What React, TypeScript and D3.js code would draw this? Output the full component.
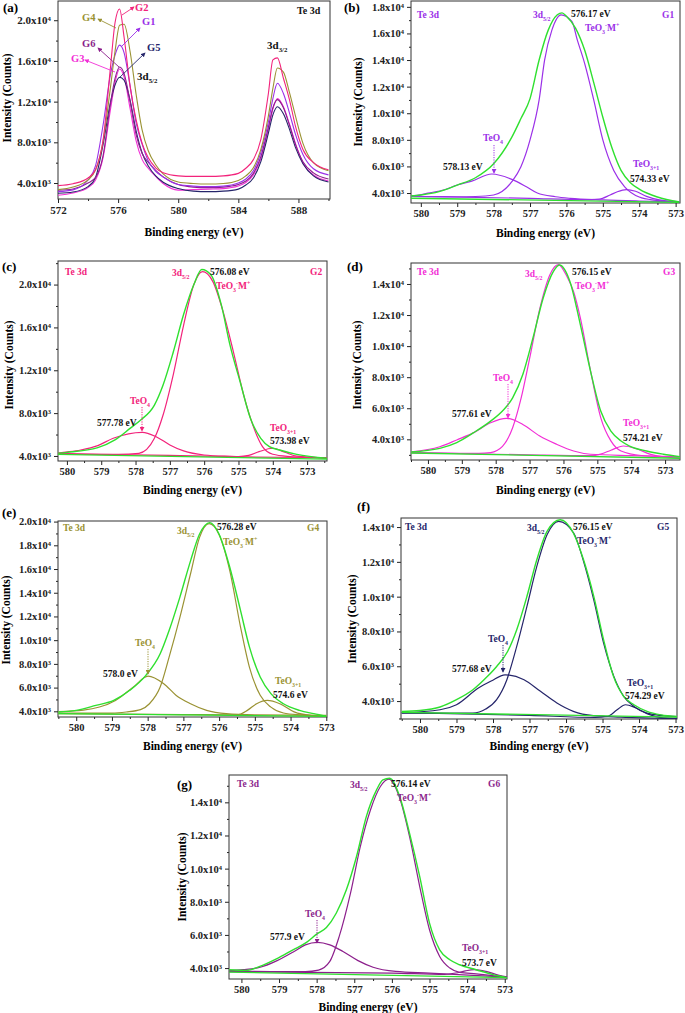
import React, { useEffect, useRef } from "react";
import * as d3 from "d3";

const FONT = "'Liberation Serif', 'Times New Roman', serif";
const GREEN = "#2fe02f";

// ---------- (a) Te 3d survey of the six glasses ----------
const surveyE = [572, 573, 574, 574.5, 575, 575.5, 575.8, 576.1, 576.4, 576.8, 577.2, 577.6, 578, 578.5, 579, 580, 581, 582, 583, 584, 584.5, 585, 585.5, 586, 586.3, 586.6, 587, 587.4, 587.8, 588.3, 589, 590];
const surveyG1 = [3150, 3330, 4300, 5700, 9700, 14750, 16600, 17550, 16800, 13500, 9900, 7800, 6200, 5150, 4600, 3850, 3700, 3650, 3700, 4000, 4400, 5200, 7000, 10000, 12300, 13800, 12800, 10900, 8800, 6800, 5400, 4800];
const surveyG2 = [3740, 3930, 4490, 5300, 8200, 15500, 19800, 21100, 18300, 13500, 10200, 7900, 6500, 5500, 5000, 4700, 4650, 4650, 4700, 4950, 5450, 6300, 8300, 12800, 16100, 16300, 14300, 12200, 9600, 7300, 6000, 5300];
const surveyG3 = [2800, 3020, 3550, 4300, 6500, 11300, 13900, 15200, 14400, 11300, 8150, 6300, 5450, 4650, 3950, 3300, 3350, 3400, 3450, 3700, 4050, 4800, 6400, 9300, 11300, 12300, 11500, 9800, 7900, 6000, 4800, 4200];
const surveyG4 = [3350, 3600, 4300, 5300, 8100, 13500, 17000, 19500, 19600, 16900, 12700, 9200, 7200, 5800, 4900, 4100, 3950, 3900, 3950, 4250, 4700, 5500, 7300, 10600, 13300, 15300, 14900, 12900, 10600, 7900, 6000, 5200];
const surveyG5 = [3000, 3120, 3650, 4550, 7800, 12000, 13650, 14400, 14100, 12100, 9100, 6950, 5700, 4700, 4080, 3460, 3200, 3150, 3200, 3400, 3800, 4500, 6100, 8900, 10700, 11500, 10800, 9300, 7500, 5900, 4700, 4100];
const surveyG6 = [3300, 3420, 4000, 4550, 6700, 11900, 14300, 15400, 14750, 12000, 8750, 6900, 6050, 5250, 4600, 3850, 3600, 3550, 3600, 3850, 4200, 4950, 6600, 9500, 11400, 12200, 11400, 9700, 7800, 6100, 5000, 4400];

const sampleNames = ["G1", "G2", "G3", "G4", "G5", "G6"];
const sampleColors = ["#9b30e8", "#f2237b", "#f22ed6", "#9a9233", "#25256a", "#8c1f8c"];

// ---------- tick values ----------
const surveyXTicks = [572, 576, 580, 584, 588];
const surveyXMinor = [574, 578, 582, 586, 590];
const fitXTicks = [580, 579, 578, 577, 576, 575, 574, 573];
const fitXMinor = [580.5, 579.5, 578.5, 577.5, 576.5, 575.5, 574.5, 573.5, 572.5];
const yTicks4k = [4000, 8000, 12000, 16000, 20000];
const yMinor4k = [6000, 10000, 14000, 18000, 22000];
const yTicks2k = [4000, 6000, 8000, 10000, 12000, 14000, 16000, 18000, 20000];
const yMinor2k = [3000, 5000, 7000, 9000, 11000, 13000, 15000, 17000, 19000];

// ---------- (b) G1 fit ----------
const bExpE = [580.3, 580, 579.5, 579, 578.5, 578, 577.5, 577.25, 577, 576.75, 576.5, 576.25, 576.12, 576, 575.75, 575.5, 575.25, 575, 574.75, 574.5, 574.25, 574, 573.5, 572.9];
const bExp = [3770, 3850, 4100, 4600, 5150, 6200, 8200, 9600, 11100, 14000, 16250, 17400, 17550, 17300, 16400, 14750, 12300, 9700, 7400, 5700, 4800, 4300, 3700, 3330];
const bMainE = [580.3, 579, 578.5, 578, 577.5, 577.25, 577, 576.75, 576.6, 576.4, 576.15, 575.85, 575.7, 575.5, 575.25, 575, 574.7, 574.4, 574, 573.6, 572.9];
const bMain = [3740, 3720, 3740, 3850, 4850, 5980, 8000, 11000, 14000, 16250, 17400, 16900, 15500, 13750, 11000, 8000, 5700, 4470, 3700, 3470, 3350];
const bTeO4E = [580.3, 580.1, 579.8, 579.35, 579, 578.6, 578.05, 577.5, 577.1, 576.8, 576.3, 575.9, 575, 574, 572.9];
const bTeO4 = [3780, 3830, 3990, 4250, 4600, 4900, 5430, 5030, 4470, 4000, 3720, 3600, 3480, 3400, 3340];
const bTeO31E = [580.3, 577, 575.5, 575.1, 574.8, 574.6, 574.35, 574.1, 573.8, 573.45, 572.9];
const bTeO31 = [3750, 3600, 3500, 3540, 3850, 4100, 4260, 4130, 3750, 3480, 3330];
const bBgE = [580.3, 572.9];
const bBg = [3610, 3300];

// ---------- (c) G2 fit ----------
const cExpE = [580.3, 580, 579.1, 578.6, 578.15, 577.85, 577.45, 577.2, 576.9, 576.6, 576.3, 576.07, 575.8, 575.5, 575.25, 574.95, 574.65, 574.35, 574.1, 573.8, 573.3, 572.4];
const cExp = [4250, 4340, 4780, 5500, 6600, 7350, 8750, 10600, 13700, 17200, 20000, 21400, 20900, 18100, 14400, 10900, 7500, 5650, 4870, 4560, 4150, 3780];
const cMainE = [580.3, 578.5, 577.9, 577.45, 577.2, 576.9, 576.6, 576.3, 576.05, 575.75, 575.45, 575.15, 574.85, 574.55, 574.3, 574, 573.5, 572.4];
const cMain = [4250, 4150, 4250, 5650, 7800, 11600, 16200, 20000, 21200, 20300, 17500, 13750, 9700, 6600, 4870, 4160, 3950, 3800];
const cTeO4E = [580.3, 580.1, 579.6, 579.1, 578.65, 577.8, 577.4, 577, 576.6, 576, 575.25, 574.5, 572.4];
const cTeO4 = [4250, 4340, 4560, 4970, 5650, 6210, 5800, 5030, 4470, 4090, 3960, 3900, 3850];
const cTeO31E = [580.3, 577, 575, 574.7, 574.4, 574.0, 573.65, 573.3, 572.4];
const cTeO31 = [4200, 4050, 3950, 4050, 4400, 4720, 4350, 3980, 3800];
const cBgE = [580.3, 572.4];
const cBg = [4150, 3700];

// ---------- (d) G3 fit ----------
const dExpE = [580.5, 579.65, 579.15, 578.65, 578.15, 577.8, 577.5, 577.2, 576.9, 576.6, 576.3, 576.12, 575.8, 575.5, 575.2, 574.9, 574.6, 574.3, 574.05, 573.55, 573.05, 572.5];
const dExp = [3190, 3420, 3790, 4430, 5170, 5820, 6670, 8170, 10520, 13080, 14790, 15220, 14100, 11370, 8380, 5820, 4530, 3890, 3570, 3250, 3040, 2870];
const dMainE = [580.5, 578.5, 578.15, 577.8, 577.5, 577.25, 577, 576.7, 576.4, 576.15, 575.9, 575.7, 575.5, 575.2, 574.9, 574.6, 574.3, 573.7, 572.5];
const dMain = [3150, 3100, 3150, 3550, 4750, 6650, 9200, 12400, 14600, 15250, 14500, 13500, 11800, 8400, 5400, 3900, 3250, 2960, 2850];
const dTeO4E = [580.5, 579.65, 579.15, 578.65, 578.15, 577.68, 577.2, 576.7, 576.2, 575.7, 575.2, 574, 572.5];
const dTeO4 = [3200, 3520, 3960, 4430, 5070, 5350, 4960, 4210, 3680, 3250, 3040, 2950, 2870];
const dTeO31E = [580.5, 577, 575.2, 574.9, 574.6, 574.23, 573.85, 573.45, 573.05, 572.5];
const dTeO31 = [3150, 3000, 2950, 3050, 3300, 3570, 3400, 3050, 2880, 2800];
const dBgE = [580.5, 572.5];
const dBg = [3120, 2780];

// ---------- (e) G4 fit ----------
const eExpE = [580.5, 580, 579.45, 578.95, 578.5, 578.05, 577.65, 577.4, 577.1, 576.8, 576.55, 576.26, 576, 575.7, 575.4, 575.15, 574.85, 574.55, 574.2, 573.75, 573.35, 573];
const eExp = [3940, 4080, 4500, 4920, 5770, 7030, 8850, 10810, 13610, 16690, 18930, 19910, 18930, 16130, 12490, 9410, 6890, 5490, 4640, 4080, 3800, 3580];
const eMainE = [580.5, 579, 578.6, 578.2, 577.95, 577.65, 577.4, 577.1, 576.8, 576.55, 576.28, 576, 575.7, 575.4, 575.15, 574.85, 574.55, 574.2, 573.7, 573];
const eMain = [3850, 3850, 3940, 4140, 4640, 6050, 8570, 11900, 15600, 18650, 19830, 18900, 15850, 11100, 7700, 5350, 4350, 3860, 3700, 3600];
const eTeO4E = [580.5, 579.8, 579.35, 578.9, 578.4, 577.99, 577.55, 577.2, 576.8, 576.35, 575.8, 575, 573];
const eTeO4 = [3980, 4100, 4360, 4920, 6050, 6970, 6330, 5340, 4640, 4080, 3800, 3700, 3650];
const eTeO31E = [580.5, 577, 575.5, 575.2, 574.95, 574.65, 574.3, 573.9, 573.45, 573];
const eTeO31 = [3800, 3720, 3700, 4100, 4640, 4920, 4640, 3950, 3660, 3600];
const eBgE = [580.5, 573];
const eBg = [3800, 3580];

// ---------- (f) G5 fit ----------
const fExpE = [580.5, 580, 579.45, 579, 578.55, 578.15, 577.9, 577.6, 577.35, 577.07, 576.8, 576.52, 576.16, 575.8, 575.52, 575.24, 574.97, 574.7, 574.42, 574.14, 573.78, 573.4, 572.95];
const fExp = [3410, 3460, 3660, 4080, 4650, 5420, 5990, 6850, 8100, 10020, 12120, 13750, 14420, 13660, 12120, 10020, 7520, 5420, 4270, 3790, 3410, 3210, 3120];
const fMainE = [580.5, 578.55, 578.2, 577.9, 577.62, 577.35, 577.07, 576.8, 576.52, 576.2, 575.79, 575.52, 575.24, 574.97, 574.69, 574.42, 574.14, 573.78, 572.95];
const fMain = [3300, 3310, 3540, 4080, 5230, 7140, 9440, 11740, 13560, 14330, 13660, 12030, 9820, 7330, 5420, 4270, 3690, 3310, 3100];
const fTeO4E = [580.5, 579.45, 579, 578.4, 578.05, 577.67, 577.15, 576.7, 576.25, 575.8, 575.25, 574.5, 572.95];
const fTeO4 = [3330, 3500, 3790, 4750, 5150, 5510, 5230, 4560, 3890, 3410, 3160, 3080, 3000];
const fTeO31E = [580.5, 577, 575.2, 574.85, 574.6, 574.37, 574.1, 573.75, 573.4, 572.95];
const fTeO31 = [3330, 3180, 3060, 3120, 3500, 3790, 3620, 3250, 3050, 2990];
const fBgE = [580.5, 572.95];
const fBg = [3350, 3080];

// ---------- (g) G6 fit ----------
const gExpE = [580.35, 579.87, 579.51, 579.07, 578.63, 578.27, 578.0, 577.74, 577.48, 577.21, 576.94, 576.68, 576.41, 576.24, 576.06, 575.79, 575.53, 575.26, 575.0, 574.73, 574.46, 574.2, 573.76, 573.31, 572.9];
const gExp = [3900, 3860, 4100, 4550, 5100, 5550, 6050, 6450, 7310, 8720, 10730, 13140, 14740, 15350, 15450, 14340, 12130, 9520, 6710, 5100, 4500, 4200, 3900, 3600, 3400];
const gMainE = [580.35, 578.3, 577.95, 577.65, 577.4, 577.1, 576.84, 576.57, 576.31, 576.08, 575.79, 575.53, 575.26, 575.0, 574.73, 574.46, 574.2, 573.76, 572.9];
const gMain = [3800, 3790, 3880, 4400, 5910, 8520, 11330, 13540, 14940, 15400, 14240, 11930, 8920, 6310, 4700, 4000, 3740, 3650, 3450];
const gTeO4E = [580.35, 579.95, 579.5, 579.05, 578.6, 578.3, 577.98, 577.65, 577.3, 576.9, 576.5, 575.9, 575, 572.9];
const gTeO4 = [3830, 3900, 4050, 4450, 5000, 5400, 5550, 5400, 5000, 4450, 4050, 3800, 3700, 3450];
const gTeO31E = [580.35, 576, 574.6, 574.3, 574.05, 573.8, 573.5, 573.15, 572.9];
const gTeO31 = [3780, 3700, 3620, 3700, 3830, 3900, 3800, 3560, 3450];
const gBgE = [580.35, 572.9];
const gBg = [3760, 3420];

// peak position labels, panels (b)..(g)
const mainEv = ["576.17 eV", "576.08 eV", "576.15 eV", "576.28 eV", "576.15 eV", "576.14 eV"];
const teo4Ev = ["578.13 eV", "577.78 eV", "577.61 eV", "578.0 eV", "577.68 eV", "577.9 eV"];
const teo31Ev = ["574.33 eV", "573.98 eV", "574.21 eV", "574.6 eV", "574.29 eV", "573.7 eV"];

type Pt = [number, number];
const zip = (e: number[], v: number[]): Pt[] => e.map((x, i) => [x, v[i]]);

const surveySeries = [surveyG1, surveyG2, surveyG3, surveyG4, surveyG5, surveyG6];
// label text position + arrow (from curve -> to label), in page px
const surveyNotes = [
  { t: [142, 25], a: [121, 47, 140, 28] },
  { t: [135, 11], a: [122, 15, 134, 7] },
  { t: [71, 62], a: [115, 72, 85, 60] },
  { t: [82, 21], a: [116, 28, 98, 19] },
  { t: [147, 51], a: [119, 78, 145, 53] },
  { t: [82, 47], a: [119, 67, 98, 48] },
];

const fits = [
  { letter: "(b)", s: 0, box: [411, 680, 1, 203], xd: [580.27, 572.88], yd: [3250, 18440], yM: yTicks2k, ym: yMinor2k,
    exp: zip(bExpE, bExp), main: zip(bMainE, bMain), t4: zip(bTeO4E, bTeO4), t31: zip(bTeO31E, bTeO31), bg: zip(bBgE, bBg),
    L: { let: [344, 12], te: [417, 18], tag: [662, 18], d52: [533, 18], pk: [571, 17], tm: [585, 31], t4: [483, 141], ar: [494, 145, 173], t4e: [443, 170], t31: [633, 167], t31e: [630, 182], yt: [358, 102], xt: 237 } },
  { letter: "(c)", s: 1, box: [58, 327, 261, 461], xd: [580.26, 572.42], yd: [3530, 22200], yM: yTicks4k, ym: yMinor4k,
    exp: zip(cExpE, cExp), main: zip(cMainE, cMain), t4: zip(cTeO4E, cTeO4), t31: zip(cTeO31E, cTeO31), bg: zip(cBgE, cBg),
    L: { let: [2, 271], te: [65, 275], tag: [310, 275], d52: [172, 276], pk: [210, 275], tm: [216, 289], t4: [130, 404], ar: [142, 407, 431], t4e: [97, 426], t31: [270, 431], t31e: [270, 444], yt: [9, 365], xt: 494 } },
  { letter: "(d)", s: 2, box: [411, 680, 263, 460], xd: [580.5, 572.56], yd: [2670, 15350], yM: yTicks2k, ym: yMinor2k,
    exp: zip(dExpE, dExp), main: zip(dMainE, dMain), t4: zip(dTeO4E, dTeO4), t31: zip(dTeO31E, dTeO31), bg: zip(dBgE, dBg),
    L: { let: [347, 271], te: [417, 275], tag: [663, 275], d52: [525, 277], pk: [572, 275], tm: [575, 289], t4: [493, 381], ar: [508, 384, 418], t4e: [452, 417], t31: [623, 426], t31e: [623, 441], yt: [357, 365], xt: 494 } },
  { letter: "(e)", s: 3, box: [58, 327, 521, 717], xd: [580.51, 572.98], yd: [3520, 20050], yM: yTicks2k, ym: yMinor2k,
    exp: zip(eExpE, eExp), main: zip(eMainE, eMain), t4: zip(eTeO4E, eTeO4), t31: zip(eTeO31E, eTeO31), bg: zip(eBgE, eBg),
    L: { let: [2, 517], te: [63, 531], tag: [307, 531], d52: [177, 534], pk: [217, 530], tm: [223, 545], t4: [135, 646], ar: [148, 649, 674], t4e: [103, 677], t31: [275, 684], t31e: [273, 698], yt: [6, 620], xt: 750 } },
  { letter: "(f)", s: 4, box: [401, 677, 518, 719], xd: [580.52, 572.96], yd: [2970, 14520], yM: yTicks2k, ym: yMinor2k,
    exp: zip(fExpE, fExp), main: zip(fMainE, fMain), t4: zip(fTeO4E, fTeO4), t31: zip(fTeO31E, fTeO31), bg: zip(fBgE, fBg),
    L: { let: [357, 511], te: [405, 530], tag: [657, 530], d52: [527, 531], pk: [573, 530], tm: [577, 544], t4: [488, 642], ar: [503, 645, 672], t4e: [452, 672], t31: [627, 686], t31e: [625, 699], yt: [352, 619], xt: 750 } },
  { letter: "(g)", s: 5, box: [229, 507, 775, 979], xd: [580.33, 572.94], yd: [3340, 15650], yM: yTicks2k, ym: yMinor2k,
    exp: zip(gExpE, gExp), main: zip(gMainE, gMain), t4: zip(gTeO4E, gTeO4), t31: zip(gTeO31E, gTeO31), bg: zip(gBgE, gBg),
    L: { let: [177, 789], te: [237, 787], tag: [488, 787], d52: [350, 788], pk: [391, 787], tm: [397, 801], t4: [305, 917], ar: [317, 920, 943], t4e: [270, 940], t31: [462, 951], t31e: [462, 966], yt: [182, 877], xt: 1011 } },
];

type Part = [string, "n" | "sub" | "sup"];

function rich(g: any, x: number, y: number, parts: Part[], color: string, size: number, anchor = "start") {
  const t = g.append("text").attr("x", x).attr("y", y).attr("fill", color)
    .attr("font-size", size).attr("font-weight", "bold").attr("font-family", FONT).attr("text-anchor", anchor);
  let cur = 0;
  parts.forEach(([s, k]) => {
    const target = k === "sub" ? size * 0.3 : k === "sup" ? -size * 0.4 : 0;
    const ts = t.append("tspan").attr("dy", target - cur).text(s);
    if (k !== "n") ts.attr("font-size", size * 0.62);
    cur = target;
  });
  return t;
}

function sciTicks(sel: any) {
  sel.selectAll("text").each(function (this: any, d: any) {
    const v = d as number;
    const e = Math.floor(Math.log10(v) + 1e-9);
    const m = (v / Math.pow(10, e)).toFixed(1);
    const s = d3.select(this);
    s.text(null);
    s.append("tspan").text(m + "x10");
    s.append("tspan").attr("dy", "-0.45em").attr("font-size", "0.62em").text(String(e));
  });
}

function frame(svg: any, p: any) {
  const [l, r, t, b] = p.box;
  const x = d3.scaleLinear().domain(p.xd).range([l, r]);
  const y = d3.scaleLinear().domain(p.yd).range([b, t]);
  const inY = (v: number) => v >= Math.min(...p.yd) && v <= Math.max(...p.yd);
  const inX = (v: number) => v >= Math.min(...p.xd) && v <= Math.max(...p.xd);

  const style = (a: any, size: number) => {
    a.select(".domain").remove();
    a.attr("font-family", FONT).attr("font-size", size).attr("font-weight", "bold").attr("color", "#222");
  };

  const xa = svg.append("g").attr("transform", `translate(0,${b})`)
    .call(d3.axisBottom(x).tickValues(p.xM.filter(inX)).tickSize(4).tickPadding(3).tickFormat(d3.format("d")));
  style(xa, p.fs);
  const xm = svg.append("g").attr("transform", `translate(0,${b})`)
    .call(d3.axisBottom(x).tickValues(p.xm.filter(inX)).tickSize(2).tickFormat(() => ""));
  style(xm, p.fs);

  const ya = svg.append("g").attr("transform", `translate(${l},0)`)
    .call(d3.axisLeft(y).tickValues(p.yM.filter(inY)).tickSize(4).tickPadding(3));
  style(ya, p.fs);
  sciTicks(ya);
  const ym = svg.append("g").attr("transform", `translate(${l},0)`)
    .call(d3.axisLeft(y).tickValues(p.ym.filter(inY)).tickSize(2).tickFormat(() => ""));
  style(ym, p.fs);

  svg.append("rect").attr("x", l).attr("y", t).attr("width", r - l).attr("height", b - t)
    .attr("fill", "none").attr("stroke", "#333").attr("stroke-width", 1);

  svg.append("clipPath").attr("id", "clip-" + p.id)
    .append("rect").attr("x", l).attr("y", t).attr("width", r - l).attr("height", b - t);

  // axis titles
  svg.append("text").attr("x", (l + r) / 2).attr("y", p.xt).attr("text-anchor", "middle")
    .attr("font-family", FONT).attr("font-weight", "bold").attr("font-size", 11.5).text("Binding energy (eV)");
  svg.append("text").attr("transform", `translate(${p.yt[0] + 4},${p.yt[1]}) rotate(-90)`).attr("text-anchor", "middle")
    .attr("font-family", FONT).attr("font-weight", "bold").attr("font-size", 11.5).text("Intensity (Counts)");

  svg.append("text").attr("x", p.let[0]).attr("y", p.let[1]).attr("font-family", FONT)
    .attr("font-weight", "bold").attr("font-size", 13).text(p.letter);

  return { x, y };
}

function lineOf(x: any, y: any) {
  return (pts: Pt[]) => {
    const s = pts.map((d) => [x(d[0]), y(d[1])] as Pt).sort((a, b) => a[0] - b[0]);
    return d3.line().curve(d3.curveMonotoneX)(s as any);
  };
}

function marker(defs: any, id: string, color: string) {
  defs.append("marker").attr("id", id).attr("viewBox", "0 0 6 6").attr("refX", 5).attr("refY", 3)
    .attr("markerWidth", 5).attr("markerHeight", 5).attr("orient", "auto")
    .append("path").attr("d", "M0,0 L6,3 L0,6 z").attr("fill", color);
}

function drawSurvey(svg: any, defs: any) {
  const p = { id: "a", letter: "(a)", box: [58, 330, 1, 199], xd: [572, 590.1], yd: [2430, 21890],
    xM: surveyXTicks, xm: surveyXMinor, yM: yTicks4k, ym: yMinor4k, fs: 11, xt: 236, yt: [7, 98], let: [3, 12] };
  const { x, y } = frame(svg, p);
  const path = lineOf(x, y);
  const g = svg.append("g").attr("clip-path", "url(#clip-a)");
  [2, 4, 5, 0, 3, 1].forEach((i) => {
    g.append("path").attr("d", path(zip(surveyE, surveySeries[i]))).attr("fill", "none")
      .attr("stroke", sampleColors[i]).attr("stroke-width", 1.1);
  });
  surveyNotes.forEach((n, i) => {
    marker(defs, "ma" + i, sampleColors[i]);
    svg.append("line").attr("x1", n.a[0]).attr("y1", n.a[1]).attr("x2", n.a[2]).attr("y2", n.a[3])
      .attr("stroke", sampleColors[i]).attr("stroke-width", 0.9).attr("marker-end", `url(#ma${i})`);
    rich(svg, n.t[0], n.t[1], [[sampleNames[i], "n"]], sampleColors[i], 10.5);
  });
  rich(svg, 297, 14, [["Te 3d", "n"]], "#111", 10);
  rich(svg, 137, 80, [["3d", "n"], ["5/2", "sub"]], "#111", 11);
  rich(svg, 267, 49, [["3d", "n"], ["3/2", "sub"]], "#111", 11);
}

function drawFit(svg: any, defs: any, f: any, k: number) {
  const c = sampleColors[f.s];
  const L = f.L;
  const p = { id: "f" + k, letter: f.letter, box: f.box, xd: f.xd, yd: f.yd, xM: fitXTicks, xm: fitXMinor,
    yM: f.yM, ym: f.ym, fs: 10.5, xt: L.xt, yt: L.yt, let: L.let };
  const { x, y } = frame(svg, p);
  const path = lineOf(x, y);
  const g = svg.append("g").attr("clip-path", `url(#clip-f${k})`);
  [f.t31, f.t4, f.main].forEach((pts: Pt[]) => {
    g.append("path").attr("d", path(pts)).attr("fill", "none").attr("stroke", c).attr("stroke-width", 1.2);
  });
  g.append("path").attr("d", path(f.exp)).attr("fill", "none").attr("stroke", GREEN).attr("stroke-width", 1.4);
  g.append("path").attr("d", d3.line()(f.bg.map((d: Pt) => [x(d[0]), y(d[1])]) as any))
    .attr("fill", "none").attr("stroke", GREEN).attr("stroke-width", 1.3);

  const fs = 9.5;
  rich(svg, L.te[0], L.te[1], [["Te 3d", "n"]], c, fs);
  rich(svg, L.tag[0], L.tag[1], [[sampleNames[f.s], "n"]], c, fs);
  rich(svg, L.d52[0], L.d52[1], [["3d", "n"], ["5/2", "sub"]], c, fs);
  rich(svg, L.pk[0], L.pk[1], [[mainEv[k], "n"]], "#111", fs);
  rich(svg, L.tm[0], L.tm[1], [["TeO", "n"], ["3", "sub"], ["-", "sup"], ["M", "n"], ["+", "sup"]], c, fs);
  rich(svg, L.t4[0], L.t4[1], [["TeO", "n"], ["4", "sub"]], c, fs);
  rich(svg, L.t4e[0], L.t4e[1], [[teo4Ev[k], "n"]], "#111", fs);
  rich(svg, L.t31[0], L.t31[1], [["TeO", "n"], ["3+1", "sub"]], c, fs);
  rich(svg, L.t31e[0], L.t31e[1], [[teo31Ev[k], "n"]], "#111", fs);
  marker(defs, "mf" + k, c);
  svg.append("line").attr("x1", L.ar[0]).attr("y1", L.ar[1]).attr("x2", L.ar[0]).attr("y2", L.ar[2])
    .attr("stroke", c).attr("stroke-width", 1).attr("stroke-dasharray", "1.2,1.2").attr("marker-end", `url(#mf${k})`);
}

export default function App() {
  const ref = useRef<SVGSVGElement | null>(null);
  useEffect(() => {
    const svg = d3.select(ref.current);
    svg.selectAll("*").remove();
    const defs = svg.append("defs");
    drawSurvey(svg, defs);
    fits.forEach((f, k) => drawFit(svg, defs, f, k));
  }, []);
  return (
    <svg ref={ref} width={685} height={1013}
      style={{ position: "absolute", left: 0, top: 0, background: "#fff" }} />
  );
}
